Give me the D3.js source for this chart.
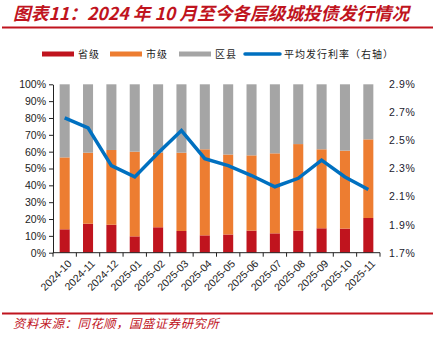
<!DOCTYPE html>
<html><head><meta charset="utf-8">
<script src="https://cdn.jsdelivr.net/npm/d3@7/dist/d3.min.js"></script>
<style>body{margin:0;background:#fff;}svg{display:block;}</style>
</head><body>
<script>
const categories = ["2024-10","2024-11","2024-12","2025-01","2025-02","2025-03","2025-04","2025-05","2025-06","2025-07","2025-08","2025-09","2025-10","2025-11"];
const provincial = [13.9,17.2,16.6,9.7,15.1,12.9,10.3,10.8,13.1,11.5,13.1,14.5,14.3,20.6];
const municipal  = [42.7,42.2,44.4,50.3,44.3,46.5,51.1,47.5,44.7,47.5,51.4,46.9,46.3,46.7];
const county = provincial.map((p,i)=>100-p-municipal[i]);
const avgRate = [2.66,2.59,2.32,2.24,2.41,2.57,2.37,2.32,2.25,2.17,2.23,2.36,2.24,2.15];
const leftTicks = [0,10,20,30,40,50,60,70,80,90,100];
const rightTicks = [1.7,1.9,2.1,2.3,2.5,2.7,2.9];
const seriesNames = ["省级","市级","区县","平均发行利率（右轴）"];
const colors = ["#C0141E","#ED7D31","#A5A5A5","#0070C0"];

const W=446,H=339;
const svg=d3.select("body").append("svg").attr("width",W).attr("height",H);
const font="Arial, 'Liberation Sans', 'Noto Sans CJK SC', sans-serif";

// title
svg.append("text").attr("x",13).attr("y",19.5).attr("fill","#C0141E")
  .attr("font-family","'Noto Sans CJK SC', sans-serif").attr("font-size",17.7).attr("font-weight","bold")
  .attr("font-style","italic").text("图表11：2024 年 10 月至今各层级城投债发行情况");
svg.append("line").attr("x1",2).attr("x2",433).attr("y1",27.5).attr("y2",27.5).attr("stroke","#C0141E").attr("stroke-width",2);
svg.append("line").attr("x1",2).attr("x2",433).attr("y1",313.5).attr("y2",313.5).attr("stroke","#C0141E").attr("stroke-width",2);
svg.append("text").attr("x",13).attr("y",328).attr("fill","#C0141E")
  .attr("font-family","'Noto Sans CJK SC', sans-serif").attr("font-size",12.3).attr("font-style","italic")
  .attr("letter-spacing",0.6).text("资料来源：同花顺，国盛证券研究所");

const x0=53,x1=380,yTop=84.3,yBot=252.7;
const x=d3.scaleBand().domain(categories).range([x0,x1]).paddingInner(0.57).paddingOuter(0.285);
const y=d3.scaleLinear().domain([0,100]).range([yBot,yTop]);
const yr=d3.scaleLinear().domain([1.7,2.9]).range([yBot,yTop]);

const stackData=categories.map((c,i)=>({c,p:provincial[i],m:municipal[i],k:county[i]}));
const stack=d3.stack().keys(["p","m","k"])(stackData);
svg.append("g").selectAll("g").data(stack).join("g").attr("fill",(d,i)=>colors[i])
  .selectAll("rect").data(d=>d).join("rect")
  .attr("x",d=>x(d.data.c)).attr("width",x.bandwidth())
  .attr("y",d=>y(d[1])).attr("height",d=>y(d[0])-y(d[1]));

// left axis
const la=svg.append("g").attr("transform",`translate(${x0},0)`)
  .call(d3.axisLeft(y).tickValues(leftTicks).tickFormat(d=>d+"%").tickSize(4).tickSizeOuter(0));
la.selectAll("text").attr("font-family",font).attr("font-size",10.5).attr("fill","#222");
la.selectAll("line,path").attr("stroke","#222");

// bottom axis
const bg=svg.append("g").attr("transform",`translate(0,${yBot})`);
bg.append("line").attr("x1",x0).attr("x2",x1).attr("stroke","#222");
const step=x.step();
const bounds=d3.range(categories.length+1).map(i=>x0+i*step);
bg.selectAll("line.t").data(bounds).join("line").attr("class","t")
  .attr("x1",d=>d).attr("x2",d=>d).attr("y1",0).attr("y2",4).attr("stroke","#222");
bg.selectAll("text").data(categories).join("text")
  .attr("transform",d=>`translate(${x(d)+x.bandwidth()/2+5},${9}) rotate(-45)`)
  .attr("text-anchor","end").attr("dy","0.35em")
  .attr("font-family",font).attr("font-size",10.5).attr("fill","#222").text(d=>d);

// right axis labels
const ra=svg.append("g").attr("transform",`translate(${x1+9},0)`)
  .call(d3.axisRight(yr).tickValues(rightTicks).tickFormat(d=>d3.format(".1f")(d)+"%").tickSize(0));
ra.select("path").remove();
ra.selectAll("text").attr("x",0).attr("font-family",font).attr("font-size",10.5).attr("fill","#1a1a2e").attr("letter-spacing",0.6);

// line
const line=d3.line().x((d,i)=>x(categories[i])+x.bandwidth()/2).y(d=>yr(d));
svg.append("path").datum(avgRate).attr("d",line).attr("fill","none")
  .attr("stroke",colors[3]).attr("stroke-width",3.5).attr("stroke-linejoin","miter");

// legend
const leg=[{x:42,w:32,tx:78},{x:110,w:32,tx:146},{x:179,w:32,tx:215},{x:245,w:35,tx:284}];
leg.forEach((l,i)=>{
  if(i<3) svg.append("rect").attr("x",l.x).attr("y",51.5).attr("width",l.w).attr("height",5).attr("fill",colors[i]);
  else svg.append("line").attr("x1",l.x).attr("x2",l.x+l.w).attr("y1",54).attr("y2",54).attr("stroke",colors[i]).attr("stroke-width",3.5).attr("stroke-linecap","round");
  svg.append("text").attr("x",l.tx).attr("y",58).attr("font-family","'Noto Sans CJK SC', sans-serif")
    .attr("font-size",10).attr("fill","#222").attr("letter-spacing",1).text(seriesNames[i]);
});
</script>
</body></html>
